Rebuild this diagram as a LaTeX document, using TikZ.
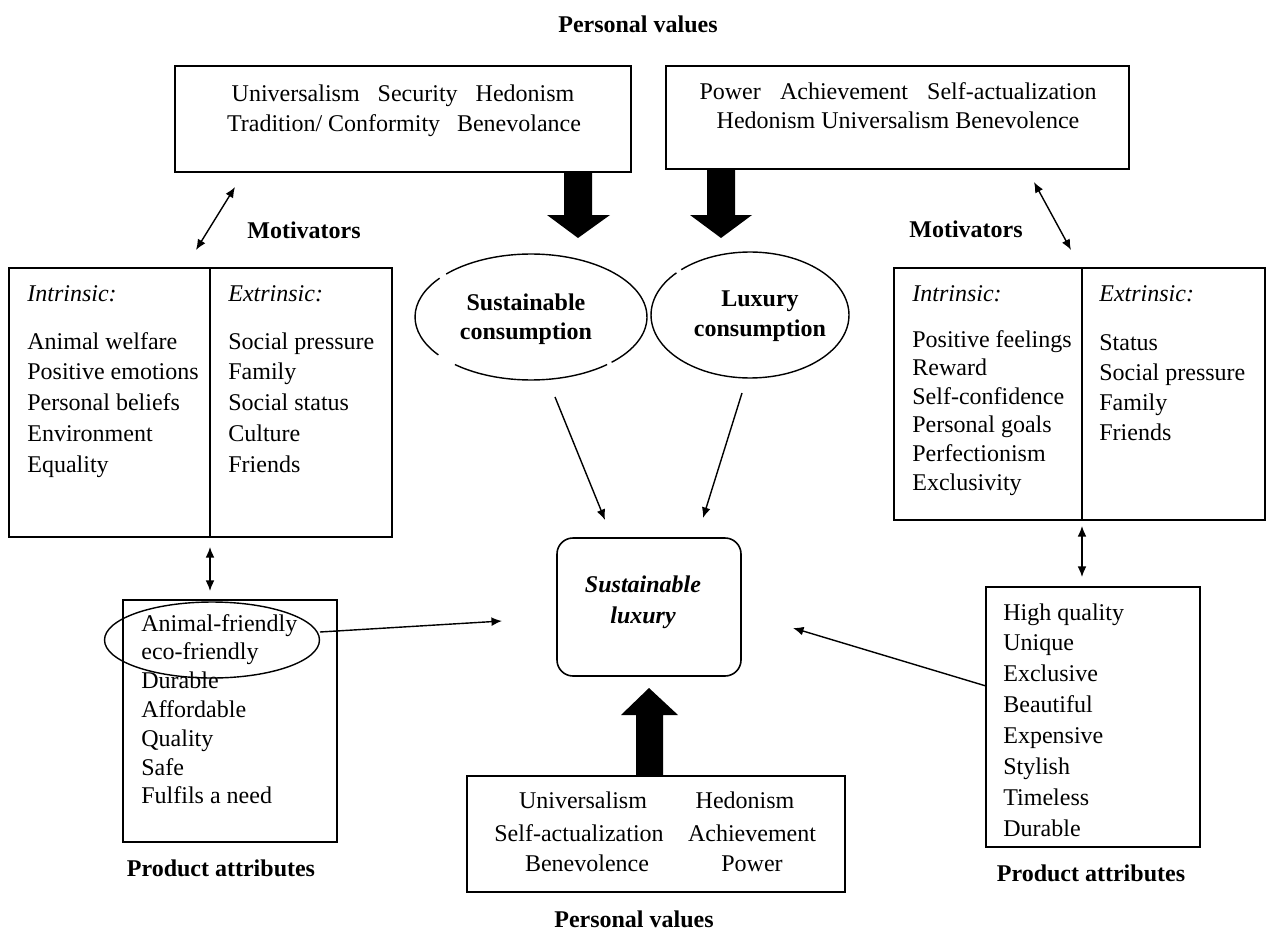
\documentclass[tikz,border=0pt]{standalone}
\usepackage{fontspec}
\setmainfont{Liberation Serif}
\usetikzlibrary{arrows.meta,fit,shapes.geometric}
\begin{document}
\begin{tikzpicture}[x=0.02cm,y=-0.02cm,
  every node/.style={inner sep=0pt, font=\fontsize{13.66}{17}\selectfont},
  t/.style={anchor=base west},
  tc/.style={anchor=base},
  bl/.style={anchor=base, font=\fontsize{13.66}{17}\selectfont\bfseries},
  box/.style={draw, line width=0.9pt, inner sep=0pt},
  con/.style={line width=0.8pt, -{Latex[length=6pt,width=5pt]}},
  dcon/.style={line width=0.8pt, {Latex[length=6pt,width=5pt]}-{Latex[length=6pt,width=5pt]}},
  ell/.style={line width=0.8pt}
]
\useasboundingbox (0,0) rectangle (1268,933);

% ---------- top labels and value boxes ----------
\node[bl] (pvtop) at (638,32) {Personal values};
\node[box, fit={(175,66) (631,172)}] (vl) {};
\node[tc] (vl1) at (403,101) {Universalism\hspace{0.75em}Security\hspace{0.75em}Hedonism};
\node[tc] (vl2) at (404,131) {Tradition/ Conformity\hspace{0.7em}Benevolance};

\node[box, fit={(666,66) (1129,169)}] (vr) {};
\node[tc] (vr1) at (898,99) {Power\hspace{0.8em}Achievement\hspace{0.8em}Self-actualization};
\node[tc] (vr2) at (898,128) {Hedonism Universalism Benevolence};

% thick down arrows
\fill[black] (564,172) -- (592,172) -- (592,215) -- (610,215) -- (578,238) -- (547,215) -- (564,215) -- cycle;
\fill[black] (707,170) -- (735,170) -- (735,215) -- (752,215) -- (721,238) -- (690,215) -- (707,215) -- cycle;

% ---------- motivators ----------
\node[bl] (motl) at (304,238) {Motivators};
\node[bl] (motr) at (966,237) {Motivators};
\coordinate (dal1) at (235,187);
\coordinate (dal2) at (196,250);
\draw[dcon] (dal1) -- (dal2);
\coordinate (dar1) at (1034,182);
\coordinate (dar2) at (1071,250);
\draw[dcon] (dar1) -- (dar2);

% left motivator box
\node[box, fit={(9,268) (392,537)}] (ml) {};
\draw[line width=0.9pt] (210,268) -- (210,537);
\node[t] (mlih) at (27,301) {\itshape Intrinsic:};
\node[t] (mleh) at (228,301) {\itshape Extrinsic:};
\foreach \s [count=\i] in {Animal welfare, Positive emotions, Personal beliefs, Environment, Equality}
  \node[t] (mli\i) at (27,{349+(\i-1)*30.75}) {\s};
\foreach \s [count=\i] in {Social pressure, Family, Social status, Culture, Friends}
  \node[t] (mle\i) at (228,{349+(\i-1)*30.75}) {\s};

% right motivator box
\node[box, fit={(894,268) (1265,520)}] (mr) {};
\draw[line width=0.9pt] (1082,268) -- (1082,520);
\node[t] (mrih) at (912,301) {\itshape Intrinsic:};
\node[t] (mreh) at (1099,301) {\itshape Extrinsic:};
\foreach \s [count=\i] in {Positive feelings, Reward, Self-confidence, Personal goals, Perfectionism, Exclusivity}
  \node[t] (mri\i) at (912,{347+(\i-1)*28.6}) {\s};
\foreach \s [count=\i] in {Status, Social pressure, Family, Friends}
  \node[t] (mre\i) at (1099,{350+(\i-1)*30.3}) {\s};

% ---------- consumption ellipses ----------
\coordinate (sc) at (531,317);
\draw[ell] ([shift={(142:2.32cm and 1.26cm)}]sc) arc[start angle=142, end angle=217, x radius=2.32cm, y radius=1.26cm];
\draw[ell] ([shift={(229:2.32cm and 1.26cm)}]sc) arc[start angle=229, end angle=311, x radius=2.32cm, y radius=1.26cm];
\draw[ell] ([shift={(314:2.32cm and 1.26cm)}]sc) arc[start angle=314, end angle=497, x radius=2.32cm, y radius=1.26cm];
\node[bl] (sc1) at (526,310) {Sustainable};
\node[bl] (sc2) at (526,339) {consumption};

\coordinate (lc) at (750,315);
\draw[ell] ([shift={(138:1.98cm and 1.26cm)}]lc) arc[start angle=138, end angle=494, x radius=1.98cm, y radius=1.26cm];
\node[bl] (lc1) at (760,306) {Luxury};
\node[bl] (lc2) at (760,336) {consumption};

% ---------- sustainable luxury ----------
\node[box, rounded corners=0.32cm, fit={(557,538) (741,676)}] (sl) {};
\node[bl] (sl1) at (643,592) {\itshape Sustainable};
\node[bl] (sl2) at (643,623) {\itshape luxury};

\coordinate (scs) at (555,397);
\coordinate (sce) at (605,520);
\draw[con] (scs) -- (sce);
\coordinate (lcs) at (742,393);
\coordinate (lce) at (703,518);
\draw[con] (lcs) -- (lce);

% thick up arrow
\fill[black] (636,776) -- (663,776) -- (663,715) -- (678,715) -- (649,688) -- (621,715) -- (636,715) -- cycle;

% ---------- bottom values ----------
\node[box, fit={(467,776) (845,892)}] (vb) {};
\node[tc] (vb1) at (583,808) {Universalism};
\node[tc] (vb2) at (579,841) {Self-actualization};
\node[tc] (vb3) at (587,871) {Benevolence};
\node[tc] (vb4) at (745,808) {Hedonism};
\node[tc] (vb5) at (752,841) {Achievement};
\node[tc] (vb6) at (752,871) {Power};
\node[bl] (pvbot) at (634,927) {Personal values};

% ---------- left product attributes ----------
\node[box, fit={(123,600) (337,842)}] (pl) {};
\foreach \s [count=\i] in {Animal-friendly, eco-friendly, Durable, Affordable, Quality, Safe, Fulfils a need}
  \node[t] (pl\i) at (141,{631+(\i-1)*28.8}) {\s};
\node[draw, ellipse, line width=0.8pt, minimum width=4.3cm, minimum height=1.52cm] (af) at (212,640) {};
\node[bl] (pal) at (221,876) {Product attributes};
\coordinate (afe) at (320,632);
\coordinate (afa) at (502,621);
\draw[con] (afe) -- (afa);
\coordinate (dvl1) at (210,547);
\coordinate (dvl2) at (210,591);
\draw[dcon] (dvl1) -- (dvl2);

% ---------- right product attributes ----------
\node[box, fit={(986,587) (1200,847)}] (pr) {};
\foreach \s [count=\i] in {High quality, Unique, Exclusive, Beautiful, Expensive, Stylish, Timeless, Durable}
  \node[t] (pr\i) at (1003,{620+(\i-1)*30.9}) {\s};
\node[bl] (par) at (1091,881) {Product attributes};
\coordinate (pre) at (986,686);
\coordinate (pra) at (793,628);
\draw[con] (pre) -- (pra);
\coordinate (dvr1) at (1082,526);
\coordinate (dvr2) at (1082,577);
\draw[dcon] (dvr1) -- (dvr2);

\end{tikzpicture}
\end{document}
